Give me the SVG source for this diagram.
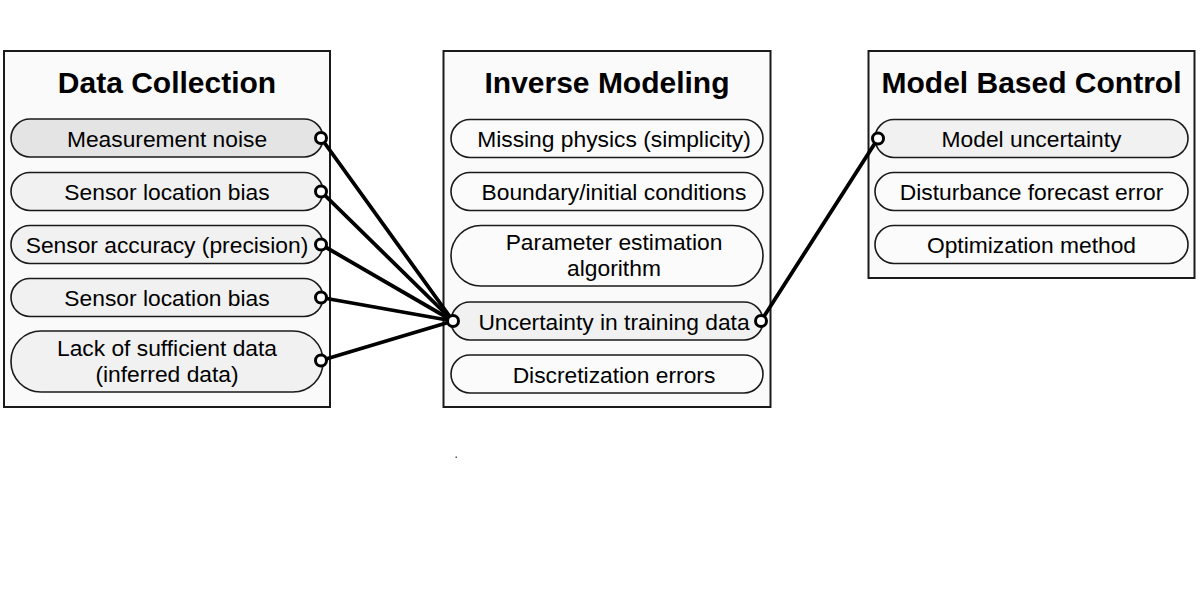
<svg xmlns="http://www.w3.org/2000/svg" width="1200" height="600" viewBox="0 0 1200 600">
<style>
.box{fill:#fafafa;stroke:#1a1a1a;stroke-width:2}
.pill{stroke:#1a1a1a;stroke-width:1.6}
.w{fill:#fbfbfb}
.g{fill:#f1f1f1}
.d{fill:#e4e4e4}
.t{font-family:"Liberation Sans",Arial,sans-serif;font-size:22.8px;fill:#000;text-anchor:middle}
.h{font-family:"Liberation Sans",Arial,sans-serif;font-size:30px;font-weight:bold;fill:#000;text-anchor:middle}
.c{fill:#fff;stroke:#000;stroke-width:3}
.ln{stroke:#000;stroke-width:3.8;fill:none;stroke-linecap:round}
</style>
<rect width="1200" height="600" fill="#fff"/>
<g id="data-collection">
<rect class="box" x="4" y="51" width="326" height="356"/>
<text class="h" x="167" y="93">Data Collection</text>
<g id="dc-measurement-noise"><rect class="pill d" x="11" y="119" width="312" height="38" rx="19"/><text class="t" x="167" y="146.5">Measurement noise</text></g>
<g id="dc-sensor-location-bias-1"><rect class="pill g" x="11" y="172.5" width="312" height="38" rx="19"/><text class="t" x="167" y="200">Sensor location bias</text></g>
<g id="dc-sensor-accuracy"><rect class="pill g" x="11" y="225.5" width="312" height="38" rx="19"/><text class="t" x="167" y="253">Sensor accuracy (precision)</text></g>
<g id="dc-sensor-location-bias-2"><rect class="pill g" x="11" y="278.5" width="312" height="38" rx="19"/><text class="t" x="167" y="306">Sensor location bias</text></g>
<g id="dc-lack-of-data"><rect class="pill g" x="11" y="331" width="312" height="61" rx="30"/><text class="t" x="167" y="355.5">Lack of sufficient data</text><text class="t" x="167" y="381.5">(inferred data)</text></g>
</g>
<g id="inverse-modeling">
<rect class="box" x="443.5" y="51" width="327" height="356"/>
<text class="h" x="607" y="93">Inverse Modeling</text>
<g id="im-missing-physics"><rect class="pill w" x="451" y="119.5" width="312" height="38" rx="19"/><text class="t" x="614" y="147">Missing physics (simplicity)</text></g>
<g id="im-boundary"><rect class="pill w" x="451" y="172.5" width="312" height="38" rx="19"/><text class="t" x="614" y="200">Boundary/initial conditions</text></g>
<g id="im-parameter-estimation"><rect class="pill w" x="451" y="225.5" width="312" height="60.5" rx="30"/><text class="t" x="614" y="249.5">Parameter estimation</text><text class="t" x="614" y="275.5">algorithm</text></g>
<g id="im-uncertainty-training"><rect class="pill g" x="451" y="302" width="312" height="38" rx="19"/><text class="t" x="614" y="329.5">Uncertainty in training data</text></g>
<g id="im-discretization"><rect class="pill w" x="451" y="355" width="312" height="38" rx="19"/><text class="t" x="614" y="382.5">Discretization errors</text></g>
</g>
<g id="model-based-control">
<rect class="box" x="868.5" y="51" width="326" height="227"/>
<text class="h" x="1031.5" y="93">Model Based Control</text>
<g id="mbc-model-uncertainty"><rect class="pill g" x="875" y="119.5" width="313" height="38" rx="19"/><text class="t" x="1031.5" y="147">Model uncertainty</text></g>
<g id="mbc-disturbance"><rect class="pill w" x="875" y="172.5" width="313" height="38" rx="19"/><text class="t" x="1031.5" y="200">Disturbance forecast error</text></g>
<g id="mbc-optimization"><rect class="pill w" x="875" y="225.5" width="313" height="38" rx="19"/><text class="t" x="1031.5" y="253">Optimization method</text></g>
</g>
<g id="connectors">
<line class="ln" x1="321" y1="138" x2="453" y2="321"/>
<line class="ln" x1="321" y1="191.5" x2="453" y2="321"/>
<line class="ln" x1="321" y1="244.5" x2="453" y2="321"/>
<line class="ln" x1="321" y1="297.5" x2="453" y2="321"/>
<line class="ln" x1="321" y1="360.5" x2="453" y2="321"/>
<line class="ln" x1="761" y1="321" x2="878" y2="138.5"/>
<circle class="c" cx="321" cy="138" r="5.5"/>
<circle class="c" cx="321" cy="191.5" r="5.5"/>
<circle class="c" cx="321" cy="244.5" r="5.5"/>
<circle class="c" cx="321" cy="297.5" r="5.5"/>
<circle class="c" cx="321" cy="360.5" r="5.5"/>
<circle class="c" cx="453" cy="321" r="5.5"/>
<circle class="c" cx="761" cy="321" r="5.5"/>
<circle class="c" cx="878" cy="138.5" r="5.5"/>
</g>
<rect x="455.5" y="456.5" width="1.5" height="1.5" fill="#555"/>
</svg>
